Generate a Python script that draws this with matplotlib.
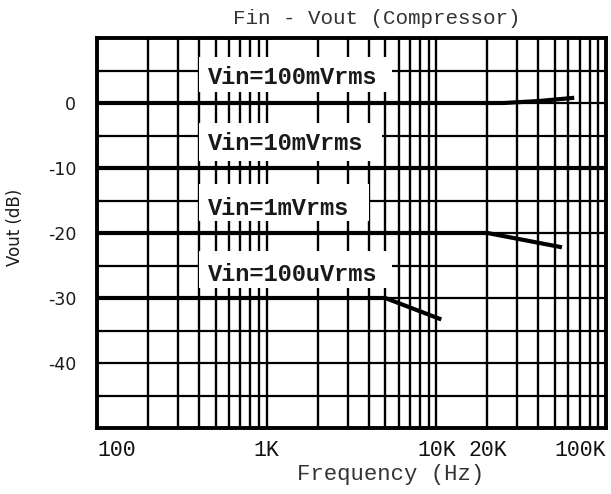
import matplotlib
matplotlib.use("Agg")
import matplotlib.pyplot as plt
from matplotlib.patches import Rectangle
from matplotlib.ticker import FixedLocator, LogLocator, NullFormatter

# ---- data ----
f_100m = [100, 25000, 40000, 65000]
db_100m = [0.0, 0.0, 0.3, 0.8]

f_10m = [100, 100000]
db_10m = [-10.0, -10.0]

f_1m = [100, 20000, 55000]
db_1m = [-20.0, -20.0, -22.2]

f_100u = [100, 5000, 10700]
db_100u = [-30.0, -30.0, -33.3]

curve_labels = ["Vin=100mVrms", "Vin=10mVrms", "Vin=1mVrms", "Vin=100uVrms"]

xtick_vals = [100, 1000, 10000, 20000, 100000]
xtick_labels = ["100", "1K", "10K", "20K", "100K"]
ytick_vals = [-40, -30, -20, -10, 0]
ytick_labels = ["-40", "-30", "-20", "-10", "0"]

title = "Fin - Vout (Compressor)"
xlabel = "Frequency (Hz)"
ylabel = "Vout (dB)"

# ---- figure ----
W, H = 611, 494
fig = plt.figure(figsize=(W / 100, H / 100), dpi=100)
ax = fig.add_axes([97 / W, 1 - 428 / H, (606 - 97) / W, (428 - 38) / H])

ax.set_xscale("log")
ax.set_xlim(100, 100000)
ax.set_ylim(-50, 10)

mono = "Liberation Mono"
sans = "DejaVu Sans"

# grid
ax.xaxis.set_major_locator(FixedLocator(xtick_vals))
ax.xaxis.set_minor_locator(LogLocator(base=10, subs=[2, 3, 4, 5, 6, 7, 8, 9]))
ax.xaxis.set_minor_formatter(NullFormatter())
ax.set_xticks(xtick_vals)
ax.set_xticklabels(xtick_labels, fontfamily=mono, fontsize=15.5, color="#111111")
ax.set_yticks(ytick_vals)
ax.set_yticklabels(ytick_labels, fontfamily=sans, fontsize=12.5, color="#1a1a1a")
ax.yaxis.set_minor_locator(FixedLocator(list(range(-50, 11, 5))))

ax.grid(which="both", axis="x", color="black", linewidth=1.7, zorder=1)
ax.grid(which="both", axis="y", color="black", linewidth=1.6, zorder=1)
ax.set_axisbelow(True)

ax.tick_params(axis="x", which="both", length=0, pad=9)
ax.tick_params(axis="y", which="both", direction="in", length=4, width=1.5, pad=15)

xl = ax.get_xticklabels()
xl[0].set_horizontalalignment("left")
xl[-1].set_horizontalalignment("right")

for s in ax.spines.values():
    s.set_linewidth(2.8)
    s.set_color("black")

# white label boxes (layout only)
boxes = [
    (400, 5500, 1.7, 7.1),
    (400, 4800, -8.9, -3.0),
    (400, 4000, -18.1, -12.4),
    (400, 5500, -28.4, -22.7),
]
for x0, x1, y0, y1 in boxes:
    ax.add_patch(Rectangle((x0, y0), x1 - x0, y1 - y0, facecolor="white",
                           edgecolor="none", zorder=2))

# curves
for fx, dbx in [(f_100m, db_100m), (f_10m, db_10m), (f_1m, db_1m), (f_100u, db_100u)]:
    ax.plot(fx, dbx, color="black", linewidth=3.0, zorder=4, solid_capstyle="butt")

# labels
label_y = [4.3, -5.9, -15.8, -26.0]
for txt, yv in zip(curve_labels, label_y):
    ax.text(450, yv, txt, fontfamily=mono, fontsize=17, fontweight="bold",
            ha="left", va="center_baseline", zorder=5, color="#1a1a1a")

fig.text(377 / W, 1 - 18 / H, title, fontfamily=mono, fontsize=15,
         ha="center", va="center", color="#333333")
fig.text(391 / W, 1 - 474 / H, xlabel, fontfamily=mono, fontsize=16,
         ha="center", va="center", color="#333333")
fig.text(15 / W, 1 - 227 / H, ylabel, fontfamily=sans, fontsize=12,
         ha="center", va="center", rotation=90, color="#1a1a1a")

fig.savefig("out.png", dpi=100)
